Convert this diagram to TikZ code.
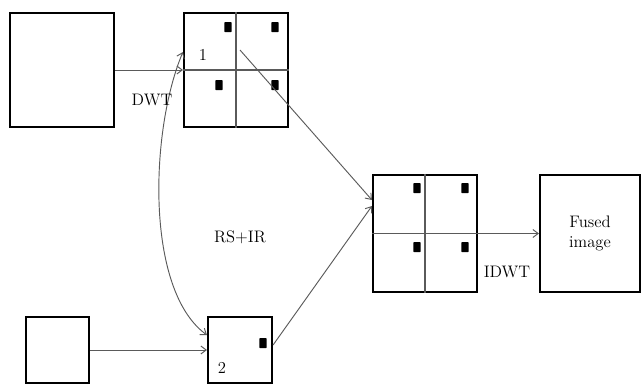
\documentclass[tikz,border=0pt]{standalone}
\usetikzlibrary{arrows.meta}

\tikzset{every picture/.style={line width=0.75pt}}
\tikzset{
  imgbox/.style={draw, line width=1.6pt, inner sep=0pt},
  subline/.style={draw={rgb,255:red,90;green,90;blue,90}, line width=0.8pt},
  coeff/.style={fill=black, inner sep=0pt, minimum width=5.5pt, minimum height=7.5pt, rounded corners=0.5pt},
  link/.style={draw={rgb,255:red,90;green,90;blue,90}, line width=0.7pt, -{Straight Barb[length=4pt,width=6pt]}},
  lbl/.style={inner sep=0.75pt, font=\fontsize{12.5}{15}\selectfont}
}

\begin{document}
\begin{tikzpicture}[x=0.75pt,y=0.75pt,yscale=-1,xscale=1]
\useasboundingbox (0,0) rectangle (642,387);

%Shape: source image 1
\node [imgbox, minimum width=78pt, minimum height=85.5pt] (src1) at (62,70) {};
%Shape: decomposed image 1
\node [imgbox, minimum width=78pt, minimum height=85.5pt] (dec1) at (236,70) {};
\draw [subline] (dec1.north) -- (dec1.south) ;
\draw [subline] (dec1.west) -- (dec1.east) ;
\node [coeff] (d1a) at (228,27) {};
\node [coeff] (d1b) at (275,27) {};
\node [coeff] (d1c) at (219,85) {};
\node [coeff] (d1d) at (275,85) {};

%Shape: fused coefficients
\node [imgbox, minimum width=78pt, minimum height=87.75pt] (fuse) at (425,233.5) {};
\draw [subline] (fuse.north) -- (fuse.south) ;
\draw [subline] (fuse.west) -- (fuse.east) ;
\node [coeff] (fa) at (417,188) {};
\node [coeff] (fb) at (465,188) {};
\node [coeff] (fc) at (417,247) {};
\node [coeff] (fd) at (465,247) {};

%Shape: result
\node [imgbox, minimum width=75pt, minimum height=87.75pt, align=center, lbl] (res) at (590,233.5) {Fused\\image};

%Shape: source image 2
\node [imgbox, minimum width=47.25pt, minimum height=49.5pt] (src2) at (57.5,350) {};
%Shape: decomposed image 2
\node [imgbox, minimum width=48pt, minimum height=49.5pt] (dec2) at (240,350) {};
\node [coeff] (d2a) at (263,343) {};

%Connectors
\coordinate (c1) at (240,50);
\coordinate (top) at (dec1.west |- 0,52);
\coordinate (bot) at (dec2.west |- 0,335);
\coordinate (in1) at (fuse.west |- 0,200);
\coordinate (in2) at (fuse.west |- 0,206);
\coordinate (out2) at (dec2.east |- 0,345);
\draw [link] (src1.east) -- (dec1.west) ;
\draw [link] (src2.east) -- (dec2.west) ;
\draw [link] (fuse.east) -- (res.west) ;
\draw [link] (c1) -- (in1) ;
\draw [link] (out2) -- (in2) ;
\draw [link, {Straight Barb[length=4pt,width=6pt]}-{Straight Barb[length=4pt,width=6pt]}] (top) .. controls (150,130) and (145,290) .. (bot) ;

% Text Node
\node [lbl] (n1) at (203,55) {1};
% Text Node
\node [lbl] (n2) at (222,368) {2};
% Text Node
\node [lbl] (dwt) at (152,100) {DWT};
% Text Node
\node [lbl] (idwt) at (507,272) {IDWT};
% Text Node
\node [lbl] (rsir) at (240,237) {RS+IR};

\end{tikzpicture}
\end{document}
